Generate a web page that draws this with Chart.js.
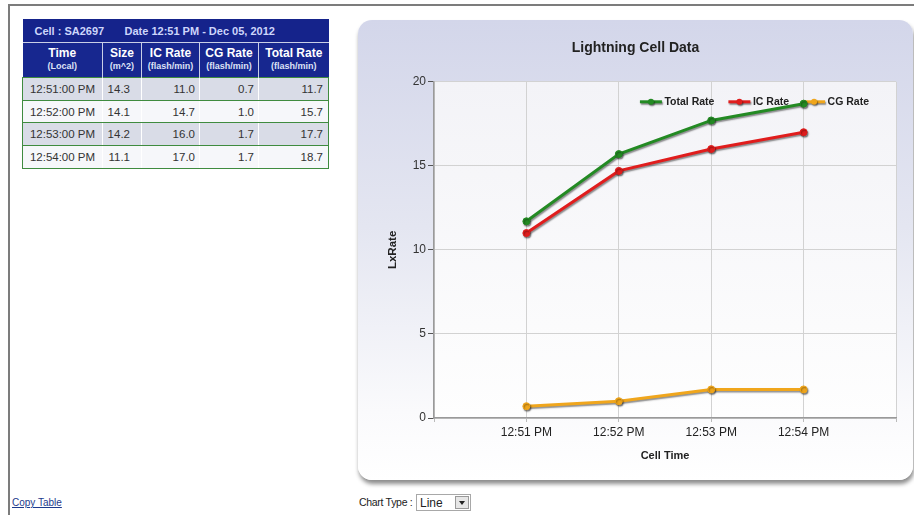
<!DOCTYPE html>
<html>
<head>
<meta charset="utf-8">
<script src="https://cdn.jsdelivr.net/npm/chart.js@4/dist/chart.umd.min.js"></script>
<style>
body{margin:0;width:914px;height:515px;overflow:hidden;background:#fff;font-family:Arial,"Liberation Sans",sans-serif;position:relative}
#frame{position:absolute;left:8px;top:4px;width:910px;height:520px;border-top:2px solid #7c7c7c;border-left:2px solid #7c7c7c}
#cell{position:absolute;left:22px;top:19px;width:306px;border-collapse:collapse;table-layout:fixed}
#cell th,#cell td{padding:0;overflow:hidden;white-space:nowrap}
#cell .cap{background:#15238b;color:#cdd6fb;height:23px;font-size:11px;font-weight:bold;text-align:left}
#cell .cap span{display:inline-block}
#cell .hd th{background:#17278f;color:#fff;height:34px;font-size:12px;font-weight:bold;text-align:center;line-height:13px;border-left:1px solid #c9cfe6;border-top:1px solid #c9cfe6}
#cell .hd th:first-child{border-left:none}
#cell .hd small{display:block;font-size:9px;font-weight:bold;color:#dde2f6}
#cell td{height:21.7px;font-size:11.5px;color:#333;text-align:right;border-top:1px solid #3f8b3f;border-bottom:1px solid #3f8b3f;border-left:1px solid #fff}
#cell td:first-child{text-align:center;border-left:1px solid #3f8b3f}
#cell td:last-child{border-right:1px solid #3f8b3f;padding-right:5px}
#cell tr.odd td{background:#d9dce7}
#cell tr.even td{background:#f6f7fa}
#panel{position:absolute;left:358px;top:20px;width:555px;height:460px;border-radius:14px;background:linear-gradient(#d3d6ea 0%,#e4e6f1 45%,#fafafc 85%,#fff 100%);box-shadow:1px 4px 4px rgba(0,0,0,.45)}
#panel canvas{position:absolute;left:0;top:0}
#copy{position:absolute;left:12px;top:497px;font-size:10px;color:#1d3a8c;text-decoration:underline}
#ctype{position:absolute;left:359px;top:496px;font-size:10.5px;letter-spacing:-0.3px;color:#222}
#sel{position:absolute;left:416px;top:494px;width:55px;height:17px;border:1px solid #a8a8a8;background:#fff;font-size:12px;color:#222;line-height:16px;box-sizing:border-box;padding-left:3px}
#sel b{position:absolute;right:1px;top:1px;width:14px;height:13px;background:#e6e6e6;border:1px solid #999;box-sizing:border-box}
#sel b:after{content:"";position:absolute;left:3px;top:4px;border-left:3px solid transparent;border-right:3px solid transparent;border-top:4px solid #222}
</style>
</head>
<body>
<div id="frame"></div>
<table id="cell"></table>
<div id="panel"><canvas id="chart" width="555" height="460"></canvas></div>
<div id="copy">Copy Table</div>
<div id="ctype">Chart Type :</div>
<div id="sel">Line<b></b></div>
<script>
// cell info
const cellId = "SA2697";
const cellDate = "12:51 PM - Dec 05, 2012";

// table rows
const tableTimes = ["12:51:00 PM", "12:52:00 PM", "12:53:00 PM", "12:54:00 PM"];
const sizes = [14.3, 14.1, 14.2, 11.1];

// chart series
const chartTimes = ["12:51 PM", "12:52 PM", "12:53 PM", "12:54 PM"];
const totalRate = [11.7, 15.7, 17.7, 18.7];
const icRate = [11.0, 14.7, 16.0, 17.0];
const cgRate = [0.7, 1.0, 1.7, 1.7];

const seriesNames = ["Total Rate", "IC Rate", "CG Rate"];
const seriesColors = ["#238a23", "#e01d1d", "#f0a61c"];

// build table
const table = document.getElementById("cell");
let html = `<colgroup><col style="width:80px"><col style="width:39px"><col style="width:58px"><col style="width:59px"><col style="width:70px"></colgroup>`;
html += `<tr><th colspan="5" class="cap"><span style="padding-left:12px;width:90px">Cell : ${cellId}</span><span>Date ${cellDate}</span></th></tr>`;
html += `<tr class="hd">
  <th>Time<small>(Local)</small></th>
  <th>Size<small>(m^2)</small></th>
  <th>IC Rate<small>(flash/min)</small></th>
  <th>CG Rate<small>(flash/min)</small></th>
  <th>Total Rate<small>(flash/min)</small></th>
</tr>`;
tableTimes.forEach((t, i) => {
    html += `<tr class="${i % 2 ? "even" : "odd"}">
      <td>${t}</td>
      <td style="padding-right:11px">${sizes[i].toFixed(1)}</td>
      <td style="padding-right:4px">${icRate[i].toFixed(1)}</td>
      <td style="padding-right:4px">${cgRate[i].toFixed(1)}</td>
      <td>${totalRate[i].toFixed(1)}</td>
    </tr>`;
});
table.innerHTML = html;

Chart.defaults.font.family = 'Arial, "Liberation Sans", sans-serif';
Chart.defaults.color = "#333";

// one empty slot on each side of the time axis
const pad = a => [null, ...a, null];
const shadow = ctx => {
    ctx.shadowColor = "rgba(0,0,0,0.45)";
    ctx.shadowOffsetX = 1;
    ctx.shadowOffsetY = 1.5;
    ctx.shadowBlur = 1.5;
};

const plotBg = {
    id: "plotBg",
    beforeDraw(chart) {
        const {ctx, chartArea: a} = chart;
        const g = ctx.createLinearGradient(0, a.top, 0, a.bottom);
        g.addColorStop(0, "#f3f3f7");
        g.addColorStop(1, "#fefefe");
        ctx.save();
        ctx.fillStyle = g;
        ctx.fillRect(a.left, a.top, a.right - a.left, a.bottom - a.top);
        ctx.restore();
    }
};

// legend sits inside the plot, top right, under the lines
const innerLegend = {
    id: "innerLegend",
    beforeDatasetsDraw(chart) {
        const {ctx, chartArea} = chart;
        const sets = chart.data.datasets;
        ctx.save();
        ctx.font = "bold 10.5px Arial";
        const widths = sets.map(d => ctx.measureText(d.label).width);
        const sym = 22, gapT = 2.5, gapI = 14;
        const total = widths.reduce((s, w) => s + sym + gapT + w, 0) + gapI * (sets.length - 1);
        let x = chartArea.right - 27 - total;
        const y = chartArea.top + 20;
        sets.forEach((d, i) => {
            ctx.save();
            shadow(ctx);
            ctx.strokeStyle = d.borderColor;
            ctx.lineWidth = 3;
            ctx.beginPath();
            ctx.moveTo(x, y);
            ctx.lineTo(x + sym, y);
            ctx.stroke();
            ctx.fillStyle = d.borderColor;
            ctx.beginPath();
            ctx.arc(x + sym / 2, y, 3, 0, Math.PI * 2);
            ctx.fill();
            ctx.restore();
            ctx.fillStyle = "#222";
            ctx.textBaseline = "middle";
            ctx.fillText(d.label, x + sym + gapT, y + 0.5);
            x += sym + gapT + widths[i] + gapI;
        });
        ctx.restore();
        ctx.save();
        shadow(ctx);
    },
    afterDatasetsDraw(chart) {
        chart.ctx.restore();
    }
};

const values = [totalRate, icRate, cgRate];

new Chart(document.getElementById("chart"), {
    type: "line",
    data: {
        labels: ["", ...chartTimes, ""],
        datasets: seriesNames.map((name, i) => ({
            label: name,
            data: pad(values[i]),
            borderColor: seriesColors[i],
            backgroundColor: seriesColors[i],
            pointBackgroundColor: seriesColors[i],
            borderWidth: 3,
            pointRadius: 3.5,
            pointBorderWidth: 1,
            tension: 0
        }))
    },
    options: {
        responsive: false,
        animation: false,
        events: [],
        layout: {padding: {left: 17, right: 17, top: 0, bottom: 0}},
        plugins: {
            legend: {display: false},
            tooltip: {enabled: false},
            title: {
                display: true,
                text: "Lightning Cell Data",
                color: "#222",
                font: {size: 14, weight: "bold"},
                padding: {top: 20, bottom: 25}
            }
        },
        scales: {
            x: {
                offset: false,
                afterFit: s => { s.height = 62; },
                grid: {color: "#d2d2d2", tickLength: 4, tickColor: "#bbb"},
                border: {color: "#9a9a9a", width: 1.5},
                ticks: {color: "#222", font: {size: 12}, padding: 3, maxRotation: 0, autoSkip: false},
                title: {display: true, text: "Cell Time", color: "#222", font: {size: 11, weight: "bold"}, padding: {top: 0, bottom: 17}}
            },
            y: {
                min: 0,
                max: 20,
                afterFit: s => { s.width = 59; },
                grid: {color: "#d2d2d2", tickLength: 6, tickColor: "#555"},
                border: {color: "#9a9a9a", width: 1.5},
                ticks: {stepSize: 5, color: "#333", font: {size: 12}, padding: 2},
                title: {display: true, text: "LxRate", color: "#222", font: {size: 11.5, weight: "bold"}, padding: {top: 11, bottom: 0}}
            }
        }
    },
    plugins: [plotBg, innerLegend]
});
</script>
</body>
</html>
